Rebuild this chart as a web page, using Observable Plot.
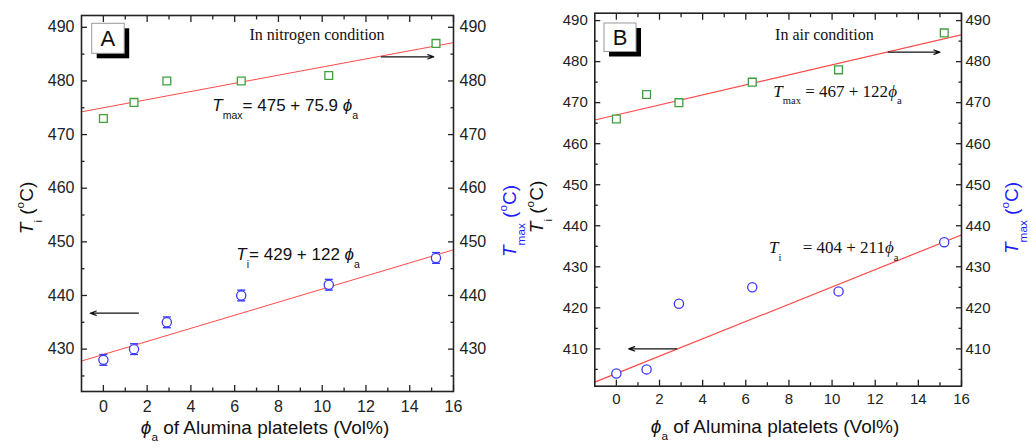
<!DOCTYPE html>
<html><head><meta charset="utf-8">
<script src="https://cdn.jsdelivr.net/npm/d3@7"></script>
<script src="https://cdn.jsdelivr.net/npm/@observablehq/plot@0.6"></script>
<style>
body{margin:0;background:#fff;}
#wrap{position:relative;width:1031px;height:447px;overflow:hidden;background:#fff;}
#wrap svg{position:absolute;top:0;overflow:visible;background:none;}
</style></head><body><div id="wrap"></div>
<script>
// ---- data ----
const phi = [0, 1.4, 2.9, 6.3, 10.3, 15.2];
// Panel A: nitrogen
const tmaxN = [473, 476, 480, 480, 481, 487];
const tiN = [428, 430, 435, 440, 442, 447];
const tiNErr = [1, 1, 1, 1, 1, 1];
const fitTmaxN = [475, 75.9];
const fitTiN = [429, 122];
// Panel B: air
const tmaxA = [466, 472, 470, 475, 478, 487];
const tiA = [404, 405, 421, 425, 424, 436];
const tiAErr = [0.6, 0.6, 0.6, 0.6, 0.6, 0.6];
const fitTmaxA = [467, 122];
const fitTiA = [404, 211];
// ticks
const xTicks = [0, 2, 4, 6, 8, 10, 12, 14, 16];
const xMinor = [1, 3, 5, 7, 9, 11, 13, 15];
const yTicksN = [430, 440, 450, 460, 470, 480, 490];
const yMinorN = [425, 435, 445, 455, 465, 475, 485];
const yTicksA = [410, 420, 430, 440, 450, 460, 470, 480, 490];
const yMinorA = [405, 415, 425, 435, 445, 455, 465, 475, 485];
// arrows (data units)
const arrowsN = {x1: [1.6, 12.7], x2: [-0.6, 15.1], y: [436.7, 484.5]};
const arrowsA = {x1: [2.8, 12.6], x2: [0.57, 15.0], y: [410, 482.3]};

const GREEN = "#3f9f3f", BLUE = "#3b3bff", RED = "#ff4a4a", LBLUE = "#1c1cff";
const SANS = "'Liberation Sans', Arial, sans-serif";
const SERIF = "'Liberation Serif', 'Times New Roman', serif";

const capSymbol = {draw(ctx, size) { const w = Math.sqrt(size / Math.PI); ctx.moveTo(-w, 0); ctx.lineTo(w, 0); }};

function rich(svg, x, y, parts, {size = 16, family = SANS, anchor = "start", fill = "#111", rotate = 0, sub = 0.45} = {}) {
  const t = d3.select(svg).append("text")
    .attr("font-family", family).attr("font-size", size).attr("fill", fill)
    .attr("text-anchor", anchor)
    .attr("transform", `translate(${x},${y}) rotate(${rotate})`);
  let shift = 0;
  for (const p of parts) {
    const [s, kind] = p;
    const ts = t.append("tspan").text(s);
    let target = 0, fs = size;
    if (kind === "sub") { target = size * sub; fs = size * 0.62; }
    if (kind === "sup") { target = -size * 0.45; fs = size * 0.62; }
    if (kind === "it") ts.attr("font-style", "italic");
    ts.attr("font-size", fs).attr("dy", target - shift);
    shift = target;
  }
  return t;
}

function panel(o) {
  const pts = phi.map((p, i) => ({phi: p, tmax: o.tmax[i], ti: o.ti[i], err: o.err[i]}));
  const fit = (c) => [-1, 16].map(x => ({x, y: c[0] + c[1] * x / 100}));
  const arrows = o.arrows.y.map((y, i) => ({x1: o.arrows.x1[i], x2: o.arrows.x2[i], y}));
  const plot = Plot.plot({
    width: o.width, height: 447,
    marginLeft: o.ml, marginRight: o.mr, marginTop: o.mt, marginBottom: o.mb,
    x: {domain: [-1, 16]},
    y: {domain: o.yDomain},
    style: {fontFamily: SANS, fontSize: o.tickFont + "px", color: "#222", background: "none", overflow: "visible"},
    marks: [
      Plot.axisX({anchor: "bottom", ticks: xTicks, tickSize: 0, tickPadding: o.padB, label: null}),
      Plot.axisX({anchor: "bottom", ticks: xTicks, tickSize: -6, fill: "none", label: null, strokeWidth: 1.3}),
      Plot.axisX({anchor: "bottom", ticks: xMinor, tickSize: -3.5, fill: "none", label: null, strokeWidth: 1.3}),
      Plot.axisX({anchor: "top", ticks: xTicks, tickSize: -6, fill: "none", label: null, strokeWidth: 1.3}),
      Plot.axisX({anchor: "top", ticks: xMinor, tickSize: -3.5, fill: "none", label: null, strokeWidth: 1.3}),
      Plot.axisY({anchor: "left", ticks: o.yTicks, tickSize: 0, tickPadding: o.padL, label: null}),
      Plot.axisY({anchor: "left", ticks: o.yTicks, tickSize: -6, fill: "none", label: null, strokeWidth: 1.3}),
      Plot.axisY({anchor: "left", ticks: o.yMinor, tickSize: -3.5, fill: "none", label: null, strokeWidth: 1.3}),
      Plot.axisY({anchor: "right", ticks: o.yTicks, tickSize: 0, tickPadding: o.padR, label: null}),
      Plot.axisY({anchor: "right", ticks: o.yTicks, tickSize: -6, fill: "none", label: null, strokeWidth: 1.3}),
      Plot.axisY({anchor: "right", ticks: o.yMinor, tickSize: -3.5, fill: "none", label: null, strokeWidth: 1.3}),
      Plot.line(fit(o.fitTmax), {x: "x", y: "y", stroke: RED, strokeWidth: o.fitW, clip: true}),
      Plot.line(fit(o.fitTi), {x: "x", y: "y", stroke: RED, strokeWidth: o.fitW, clip: true}),
      Plot.ruleX(pts, {x: "phi", y1: d => d.ti - d.err, y2: d => d.ti + d.err, stroke: BLUE, strokeWidth: 1.2}),
      Plot.dot(pts, {x: "phi", y: d => d.ti - d.err, symbol: capSymbol, r: 4, stroke: BLUE, strokeWidth: 1.4}),
      Plot.dot(pts, {x: "phi", y: d => d.ti + d.err, symbol: capSymbol, r: 4, stroke: BLUE, strokeWidth: 1.4}),
      Plot.dot(pts, {x: "phi", y: "tmax", symbol: "square", r: 4.4, stroke: GREEN, strokeWidth: 1.3, fill: "white"}),
      Plot.dot(pts, {x: "phi", y: "ti", symbol: "circle", r: 4.6, stroke: BLUE, strokeWidth: 1.3, fill: "white"}),
      Plot.arrow(arrows, {x1: "x1", x2: "x2", y1: "y", y2: "y", stroke: "#111", strokeWidth: 1.2, headLength: 8, headAngle: 40}),
      Plot.frame({stroke: "#222", strokeWidth: 1.6})
    ]
  });
  plot.style.left = o.left + "px";
  document.getElementById("wrap").appendChild(plot);
  const sx = plot.scale("x"), sy = plot.scale("y");
  // panel letter box
  const g = d3.select(plot);
  g.append("rect").attr("x", o.box[0] + 5).attr("y", o.box[1] + 5).attr("width", o.box[2]).attr("height", o.box[3]).attr("fill", "#000");
  g.append("rect").attr("x", o.box[0]).attr("y", o.box[1]).attr("width", o.box[2]).attr("height", o.box[3]).attr("fill", "#fff").attr("stroke", "#999").attr("stroke-width", 1);
  g.append("text").attr("x", o.box[0] + o.box[2] / 2).attr("y", o.box[1] + o.box[3] / 2 + 7.5)
    .attr("text-anchor", "middle").attr("font-family", SANS).attr("font-size", 22).attr("fill", "#111").text(o.letter);
  // in-plot annotations
  for (const a of o.notes) {
    rich(plot, sx.apply(a.x), sy.apply(a.y), a.parts, {size: a.size, family: a.family});
  }
  // axis titles
  for (const a of o.titles) rich(plot, a.x, a.y, a.parts, {size: a.size, anchor: "middle", fill: a.fill || "#111", rotate: a.rotate || 0, sub: a.sub || 0.45});
  return plot;
}

panel({
  left: 0, width: 515, ml: 81, mr: 62, mt: 15, mb: 56,
  yDomain: [422.1, 492.2], yTicks: yTicksN, yMinor: yMinorN,
  tmax: tmaxN, ti: tiN, err: tiNErr, fitTmax: fitTmaxN, fitTi: fitTiN, arrows: arrowsN,
  tickFont: 16, padB: 9, padL: 7, padR: 6, fitW: 1,
  box: [91.7, 23.3, 32.5, 30], letter: "A",
  notes: [
    {x: 6.7, y: 487.6, size: 16, family: SERIF, parts: [["In nitrogen condition"]]},
    {x: 5.0, y: 474.3, size: 17, family: SANS, parts: [["T", "it"], ["max", "sub"], ["= 475 + 75.9 "], ["\u03D5", "it"], ["a", "sub"]]},
    {x: 6.1, y: 446.5, size: 17, family: SANS, parts: [["T", "it"], ["i", "sub"], ["= 429 + 122 "], ["\u03D5", "it"], ["a", "sub"]]}
  ],
  titles: [
    {x: 265, y: 434, size: 19, sub: 0.35, parts: [["\u03D5", "it"], ["a", "sub"], [" of Alumina platelets (Vol%)"]]},
    {x: 33, y: 208, size: 19, rotate: -90, parts: [["T", "it"], ["i", "sub"], [" ("], ["o", "sup"], ["C)"]]},
    {x: 516, y: 221, size: 19, rotate: -90, fill: LBLUE, parts: [["T", "it"], ["max", "sub"], [" ("], ["o", "sup"], ["C)"]]}
  ]
});

panel({
  left: 515, width: 516, ml: 79.3, mr: 70, mt: 12.7, mb: 61.3,
  yDomain: [400.9, 491.8], yTicks: yTicksA, yMinor: yMinorA,
  tmax: tmaxA, ti: tiA, err: tiAErr, fitTmax: fitTmaxA, fitTi: fitTiA, arrows: arrowsA,
  tickFont: 15, padB: 7.5, padL: 7, padR: 4, fitW: 1.2,
  box: [89, 23, 32, 28.5], letter: "B",
  notes: [
    {x: 7.38, y: 485.1, size: 16, family: SERIF, parts: [["In air condition"]]},
    {x: 7.3, y: 471.3, size: 17, family: SERIF, parts: [["T", "it"], ["max", "sub"], [" = 467 + 122"], ["\u03D5", "it"], ["a", "sub"]]},
    {x: 7.1, y: 433.2, size: 17, family: SERIF, parts: [["T", "it"], ["i", "sub"], ["     = 404 + 211"], ["\u03D5", "it"], ["a", "sub"]]}
  ],
  titles: [
    {x: 260, y: 433, size: 19, sub: 0.35, parts: [["\u03D5", "it"], ["a", "sub"], [" of Alumina platelets (Vol%)"]]},
    {x: 28, y: 207, size: 19, rotate: -90, parts: [["T", "it"], ["i", "sub"], [" ("], ["o", "sup"], ["C)"]]},
    {x: 503, y: 218, size: 19, rotate: -90, fill: LBLUE, parts: [["T", "it"], ["max", "sub"], [" ("], ["o", "sup"], ["C)"]]}
  ]
});
</script>
</body></html>
